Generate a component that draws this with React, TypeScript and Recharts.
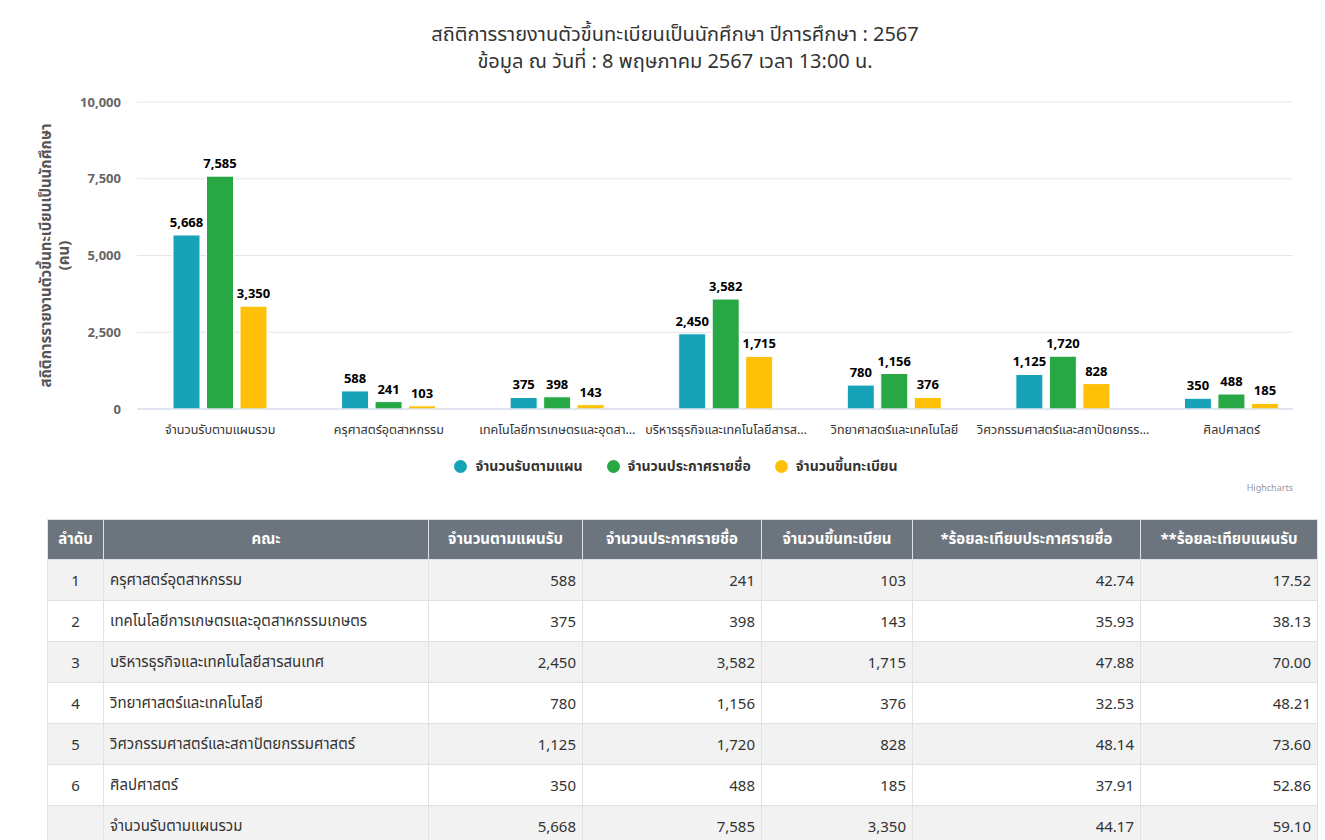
import React from 'react';
import { BarChart, Bar, XAxis, YAxis, CartesianGrid, Legend, LabelList } from 'recharts';

const categories = [
  'จำนวนรับตามแผนรวม',
  'ครุศาสตร์อุตสาหกรรม',
  'เทคโนโลยีการเกษตรและอุตสาหกรรมเกษตร',
  'บริหารธุรกิจและเทคโนโลยีสารสนเทศ',
  'วิทยาศาสตร์และเทคโนโลยี',
  'วิศวกรรมศาสตร์และสถาปัตยกรรมศาสตร์',
  'ศิลปศาสตร์',
];
const tickLabels = [
  'จำนวนรับตามแผนรวม',
  'ครุศาสตร์อุตสาหกรรม',
  'เทคโนโลยีการเกษตรและอุตสา…',
  'บริหารธุรกิจและเทคโนโลยีสารส…',
  'วิทยาศาสตร์และเทคโนโลยี',
  'วิศวกรรมศาสตร์และสถาปัตยกรร…',
  'ศิลปศาสตร์',
];
const planValues = [5668, 588, 375, 2450, 780, 1125, 350];
const announcedValues = [7585, 241, 398, 3582, 1156, 1720, 488];
const registeredValues = [3350, 103, 143, 1715, 376, 828, 185];
const yTicks = [0, 2500, 5000, 7500, 10000];

const seriesKeys = ['plan', 'announced', 'registered'];
const seriesNames = ['จำนวนรับตามแผน', 'จำนวนประกาศรายชื่อ', 'จำนวนขึ้นทะเบียน'];
const seriesColors = ['#17a2b8', '#28a745', '#ffc107'];

const titleLines = ['สถิติการรายงานตัวขึ้นทะเบียนเป็นนักศึกษา ปีการศึกษา : 2567', 'ข้อมูล ณ วันที่ : 8 พฤษภาคม 2567 เวลา 13:00 น.'];
const yTitleLines = ['สถิติการรายงานตัวขึ้นทะเบียนเป็นนักศึกษา', '(คน)'];

const tableHeaders = ['ลำดับ', 'คณะ', 'จำนวนตามแผนรับ', 'จำนวนประกาศรายชื่อ', 'จำนวนขึ้นทะเบียน', '*ร้อยละเทียบประกาศรายชื่อ', '**ร้อยละเทียบแผนรับ'];
const tableOrder = ['1', '2', '3', '4', '5', '6', ''];
const tableFaculties = [
  'ครุศาสตร์อุตสาหกรรม',
  'เทคโนโลยีการเกษตรและอุตสาหกรรมเกษตร',
  'บริหารธุรกิจและเทคโนโลยีสารสนเทศ',
  'วิทยาศาสตร์และเทคโนโลยี',
  'วิศวกรรมศาสตร์และสถาปัตยกรรมศาสตร์',
  'ศิลปศาสตร์',
  'จำนวนรับตามแผนรวม',
];
const tablePlan = [588, 375, 2450, 780, 1125, 350, 5668];
const tableAnnounced = [241, 398, 3582, 1156, 1720, 488, 7585];
const tableRegistered = [103, 143, 1715, 376, 828, 185, 3350];
const tablePctAnnounced = [42.74, 35.93, 47.88, 32.53, 48.14, 37.91, 44.17];
const tablePctPlan = [17.52, 38.13, 70.0, 48.21, 73.6, 52.86, 59.1];

const colWidths = [56, 325, 154, 179, 151, 228, 177];

const FONT = "'Noto Sans', 'Noto Sans Thai', sans-serif";

const chartData = categories.map((c, i) => ({
  name: c,
  label: tickLabels[i],
  plan: planValues[i],
  announced: announcedValues[i],
  registered: registeredValues[i],
}));

const fmt = (v: number) => v.toLocaleString('en-US');

const renderDataLabel = (props: any) => {
  const { x, y, width, value } = props;
  return (
    <text
      x={x + width / 2}
      y={y - 8}
      textAnchor="middle"
      fontSize={13}
      fontWeight="bold"
      fill="#000"
      stroke="#fff"
      strokeWidth={2}
      paintOrder="stroke"
      fontFamily={FONT}
    >
      {fmt(value)}
    </text>
  );
};

const renderYTitle = (props: any) => {
  const vb = props.viewBox || { x: 0, y: 0, width: 0, height: 0 };
  const cy = vb.y + vb.height / 2;
  const xs = [45, 63];
  return (
    <g>
      {yTitleLines.map((t, i) => (
        <text
          key={i}
          x={vb.x + xs[i]}
          y={cy}
          transform={`rotate(-90 ${vb.x + xs[i]} ${cy})`}
          textAnchor="middle"
          dominantBaseline="central"
          fontSize={15}
          fontWeight="bold"
          fill="#555"
          fontFamily={FONT}
        >
          {t}
        </text>
      ))}
    </g>
  );
};

const renderLegend = () => (
  <div style={{ height: 30, display: 'flex', justifyContent: 'center', alignItems: 'center', fontFamily: FONT, paddingLeft: 59 }}>
    {seriesNames.map((n, i) => (
      <div key={n} style={{ display: 'flex', alignItems: 'center', marginLeft: i === 0 ? 0 : 24 }}>
        <span style={{ width: 13, height: 13, borderRadius: '50%', background: seriesColors[i], display: 'inline-block', marginRight: 8 }} />
        <span style={{ fontSize: 14, fontWeight: 'bold', color: '#333' }}>{n}</span>
      </div>
    ))}
  </div>
);

const renderXTick = (props: any) => {
  const { x, y, payload } = props;
  return (
    <text x={x} y={y + 17} textAnchor="middle" fontSize={12.5} fill="#333" fontFamily={FONT}>
      {tickLabels[payload.index] ?? payload.value}
    </text>
  );
};

export default function App() {
  return (
    <div style={{ position: 'absolute', left: 0, top: 0, width: 1325, height: 840, overflow: 'hidden', background: '#fff', fontFamily: FONT }}>
      <div style={{ position: 'absolute', left: 0, top: 0, width: 1325, height: 496, overflow: 'hidden' }}>
        {titleLines.map((t, i) => (
          <div
            key={t}
            style={{ position: 'absolute', left: 0, top: 20 + i * 27, width: 1350, height: 27, textAlign: 'center', fontSize: 20, color: '#333', lineHeight: '27px' }}
          >
            {t}
          </div>
        ))}
        <BarChart
          width={1325}
          height={500}
          data={chartData}
          margin={{ top: 102, right: 32, bottom: 19, left: 0 }}
          barSize={27}
          barGap={6.5}
        >
          <CartesianGrid vertical={false} stroke="#e6e6e6" />
          <XAxis
            dataKey="name"
            height={42}
            tickLine={false}
            axisLine={{ stroke: '#ccd6eb' }}
            interval={0}
            padding={{ left: -1, right: -23 }}
            tick={renderXTick}
          />
          <YAxis
            width={137}
            domain={[0, 10000]}
            ticks={yTicks}
            tickFormatter={fmt}
            axisLine={false}
            tickLine={false}
            tick={{ fontSize: 13, fill: '#666', fontWeight: 'bold', fontFamily: FONT }}
            tickMargin={10}
            label={{ content: renderYTitle }}
          />
          <Legend verticalAlign="bottom" content={renderLegend} />
          {seriesKeys.map((k, i) => (
            <Bar key={k} dataKey={k} name={seriesNames[i]} fill={seriesColors[i]} stroke="#fff" strokeWidth={1} isAnimationActive={false}>
              <LabelList dataKey={k} content={renderDataLabel} />
            </Bar>
          ))}
        </BarChart>
        <div style={{ position: 'absolute', right: 32, top: 482, fontSize: 9, color: '#999', lineHeight: '11px' }}>Highcharts</div>
      </div>
      <table
        style={{
          position: 'absolute',
          left: 47,
          top: 519,
          width: 1270,
          borderCollapse: 'collapse',
          tableLayout: 'fixed',
          fontSize: 15,
          color: '#333',
          fontFamily: FONT,
        }}
      >
        <colgroup>
          {colWidths.map((w, i) => (
            <col key={i} style={{ width: w }} />
          ))}
        </colgroup>
        <thead>
          <tr style={{ height: 40, background: '#6c757d', color: '#fff' }}>
            {tableHeaders.map((h) => (
              <th key={h} style={{ border: '1px solid #dee2e6', fontWeight: 'bold', textAlign: 'center', padding: '0 2px', whiteSpace: 'nowrap', overflow: 'hidden' }}>
                {h}
              </th>
            ))}
          </tr>
        </thead>
        <tbody>
          {tableFaculties.map((f, i) => {
            const cell: React.CSSProperties = { border: '1px solid #dee2e6', padding: '0 6px', whiteSpace: 'nowrap', overflow: 'hidden' };
            const num: React.CSSProperties = { ...cell, textAlign: 'right' };
            return (
              <tr key={f} style={{ height: 41, background: i % 2 === 0 ? '#f2f2f2' : '#fff' }}>
                <td style={{ ...cell, textAlign: 'center' }}>{tableOrder[i]}</td>
                <td style={cell}>{f}</td>
                <td style={num}>{fmt(tablePlan[i])}</td>
                <td style={num}>{fmt(tableAnnounced[i])}</td>
                <td style={num}>{fmt(tableRegistered[i])}</td>
                <td style={num}>{tablePctAnnounced[i].toFixed(2)}</td>
                <td style={num}>{tablePctPlan[i].toFixed(2)}</td>
              </tr>
            );
          })}
        </tbody>
      </table>
    </div>
  );
}
